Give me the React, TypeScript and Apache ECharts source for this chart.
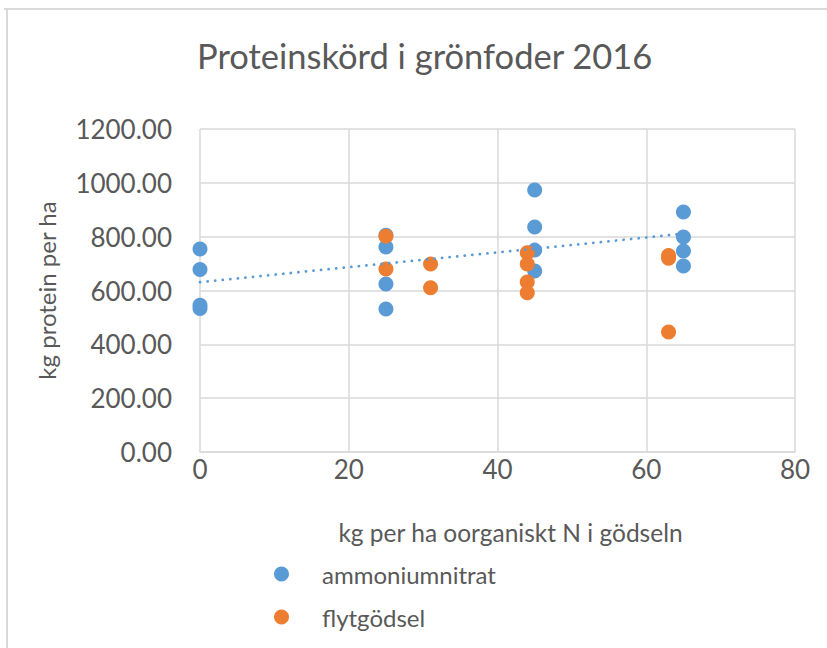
import React, { useEffect, useRef } from "react";
import * as echarts from "echarts";

const titleText = "Proteinskörd i grönfoder 2016";
const xAxisName = "kg per ha oorganiskt N i gödseln";
const yAxisName = "kg protein per ha";

const seriesNames = ["ammoniumnitrat", "flytgödsel"];

const ammoniumX = [0, 0, 0, 0, 25, 25, 25, 25, 45, 45, 45, 45, 65, 65, 65, 65];
const ammoniumY = [754, 678, 545, 533, 805, 762, 624, 531, 973, 836, 750, 672, 892, 799, 747, 691];

const flytX = [25, 25, 31, 31, 44, 44, 44, 44, 63, 63, 63];
const flytY = [802, 680, 698, 610, 740, 698, 632, 592, 730, 720, 446];

const xTicks = [0, 20, 40, 60, 80];
const yTicks = [0, 200, 400, 600, 800, 1000, 1200];

function linearFit(xs: number[], ys: number[]) {
  const n = xs.length;
  const mx = xs.reduce((a, b) => a + b, 0) / n;
  const my = ys.reduce((a, b) => a + b, 0) / n;
  let sxy = 0;
  let sxx = 0;
  for (let i = 0; i < n; i++) {
    sxy += (xs[i] - mx) * (ys[i] - my);
    sxx += (xs[i] - mx) * (xs[i] - mx);
  }
  const slope = sxy / sxx;
  return { slope, intercept: my - slope * mx };
}

const FONT = "Lato, 'Open Sans', sans-serif";
const GREY = "#595959";

export default function App() {
  const ref = useRef<HTMLDivElement>(null);

  useEffect(() => {
    document.body.style.margin = "0";
    if (!ref.current) return;
    const chart = echarts.init(ref.current, undefined, { renderer: "svg" });

    const fit = linearFit(ammoniumX, ammoniumY);
    const xMin = Math.min(...ammoniumX);
    const xMax = Math.max(...ammoniumX);
    const trend = [
      [xMin, fit.intercept + fit.slope * xMin],
      [xMax, fit.intercept + fit.slope * xMax],
    ];

    chart.setOption({
      animation: false,
      backgroundColor: "#ffffff",
      textStyle: { fontFamily: FONT },
      title: {
        text: titleText,
        left: 192,
        top: 33,
        padding: 5,
        textStyle: { fontFamily: FONT, fontSize: 34.5, fontWeight: "normal", color: GREY },
      },
      graphic: [
        { type: "line", shape: { x1: 4, y1: 9, x2: 827, y2: 9 }, style: { stroke: "#d9d9d9", lineWidth: 2 } },
        { type: "line", shape: { x1: 7, y1: 9, x2: 7, y2: 648 }, style: { stroke: "#d9d9d9", lineWidth: 2 } },
      ],
      legend: {
        orient: "vertical",
        left: 269,
        top: 556,
        data: seriesNames,
        icon: "circle",
        itemWidth: 15,
        itemHeight: 15,
        itemGap: 17,
        textStyle: { fontFamily: FONT, fontSize: 24, color: GREY, padding: [0, 0, 0, 28], lineHeight: 26 },
      },
      grid: { left: 200, right: 32, top: 129, bottom: 196 },
      xAxis: {
        type: "value",
        min: xTicks[0],
        max: xTicks[xTicks.length - 1],
        interval: 20,
        name: xAxisName,
        nameLocation: "middle",
        nameGap: 68,
        nameTextStyle: { fontFamily: FONT, fontSize: 24.5, color: GREY, padding: [0, 0, 0, 26] },
        axisLine: { show: true, lineStyle: { color: "#d9d9d9", width: 1.5 } },
        axisTick: { show: false },
        axisLabel: { fontFamily: FONT, fontSize: 26, color: GREY, margin: 4 },
        splitLine: { show: true, lineStyle: { color: "#d9d9d9", width: 1.5 } },
      },
      yAxis: {
        type: "value",
        min: yTicks[0],
        max: yTicks[yTicks.length - 1],
        interval: 200,
        name: yAxisName,
        nameLocation: "middle",
        nameGap: 142,
        nameRotate: 90,
        nameTextStyle: { fontFamily: FONT, fontSize: 24, color: GREY },
        axisLine: { show: false },
        axisTick: { show: false },
        axisLabel: {
          fontFamily: FONT,
          fontSize: 26,
          color: GREY,
          margin: 28,
          formatter: (v: number) => v.toFixed(2),
        },
        splitLine: { show: true, lineStyle: { color: "#d9d9d9", width: 1.5 } },
      },
      series: [
        {
          name: seriesNames[0],
          type: "scatter",
          symbol: "circle",
          symbolSize: 15,
          itemStyle: { color: "#5B9BD5", opacity: 1 },
          data: ammoniumX.map((x, i) => [x, ammoniumY[i]]),
          z: 2,
        },
        {
          name: seriesNames[1],
          type: "scatter",
          symbol: "circle",
          symbolSize: 15,
          itemStyle: { color: "#ED7D31", opacity: 1 },
          data: flytX.map((x, i) => [x, flytY[i]]),
          z: 3,
        },
        {
          name: "trend",
          type: "line",
          data: trend,
          showSymbol: false,
          symbol: "none",
          silent: true,
          lineStyle: { color: "#5B9BD5", width: 2.75, type: [0.1, 7.5], cap: "round" },
          z: 4,
        },
      ],
    });

    return () => chart.dispose();
  }, []);

  return <div ref={ref} style={{ width: 827, height: 648 }} />;
}
